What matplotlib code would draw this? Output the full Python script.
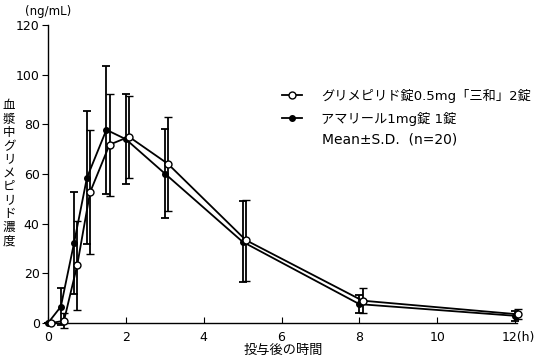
import matplotlib
matplotlib.use("Agg")
import matplotlib.pyplot as plt
from matplotlib.transforms import ScaledTranslation

plt.rcParams['font.family'] = ['DejaVu Sans', 'Noto Sans CJK JP']

# 投与後の時間 (h)
times = [0, 0.33, 0.67, 1, 1.5, 2, 3, 5, 8, 12]
xtick_labels = ["0", "2", "4", "6", "8", "10", "12(h)"]

# グリメピリド錠0.5mg「三和」2錠
generic_mean = [0, 0.9, 23.3, 52.6, 71.8, 75.0, 64.1, 33.4, 9.0, 3.5]
generic_sd = [0, 3.0, 17.9, 25.0, 20.6, 16.5, 19.0, 16.3, 5.0, 2.0]

# アマリール1mg錠 1錠
ref_mean = [0, 6.6, 32.3, 58.5, 77.8, 74.0, 60.2, 32.7, 7.6, 2.9]
ref_sd = [0, 7.4, 20.5, 26.8, 25.7, 18.2, 17.8, 16.3, 3.6, 2.0]

labels = ["グリメピリド錠0.5mg「三和」2錠", "アマリール1mg錠 1錠"]
dodge = 0.08

fig = plt.figure(figsize=(5.37, 3.57), dpi=100)
ax = fig.add_axes([0.0894, 0.0952, 0.8734, 0.8348])

ax.errorbar(times, ref_mean, yerr=ref_sd, color="black", lw=1.3,
            marker="o", ms=4, mfc="black", mec="black",
            capsize=2.7, capthick=1.3, elinewidth=1.3, label=labels[1],
            clip_on=False, zorder=3)
ax.errorbar([t + dodge for t in times], generic_mean, yerr=generic_sd,
            color="black", lw=1.3, marker="o", ms=5, mfc="white",
            mec="black", mew=1.0, capsize=2.7, capthick=1.3, elinewidth=1.3,
            label=labels[0], clip_on=False, zorder=4)

ax.set_xlim(0, 12.05)
ax.set_ylim(0, 120)
ax.set_xticks([0, 2, 4, 6, 8, 10, 12])
ax.set_xticklabels(xtick_labels)
ax.set_yticks([0, 20, 40, 60, 80, 100, 120])
ax.tick_params(axis="x", direction="in", length=4, labelsize=9, pad=6)
ax.tick_params(axis="y", direction="out", length=4, labelsize=9, pad=2)
ax.spines["top"].set_visible(False)
ax.spines["right"].set_visible(False)
for s in ["left", "bottom"]:
    ax.spines[s].set_linewidth(1.0)

# "12(h)" の "12" が目盛りの位置に来るよう右にずらす
last = ax.get_xticklabels()[-1]
last.set_transform(last.get_transform()
                   + ScaledTranslation(3 / 100, 0, fig.dpi_scale_trans))

fig.text(283 / 537, 1 - 350 / 357, "投与後の時間", fontsize=9.5,
         ha="center", va="center")
fig.text(0.017, 0.515, "\n".join("血漿中グリメピリド濃度"), fontsize=9,
         family="Noto Sans CJK JP", ha="center", va="center",
         linespacing=1.05)
fig.text(25 / 537, 1 - 12 / 357, "(ng/mL)", fontsize=8.5, ha="left",
         va="center")

handles, labs = ax.get_legend_handles_labels()
handles = [h[0] for h in handles][::-1]
labs = labs[::-1]
ax.legend(handles, labs, loc="upper left", bbox_to_anchor=(0.499, 0.785),
          frameon=False, fontsize=9.5, handlelength=1.5, handletextpad=1.45,
          labelspacing=0.68, borderpad=0, borderaxespad=0)
fig.text(322 / 537, 1 - 140 / 357, "Mean±S.D.  (n=20)", fontsize=10,
         ha="left", va="center")

fig.savefig("out.png", dpi=100)
